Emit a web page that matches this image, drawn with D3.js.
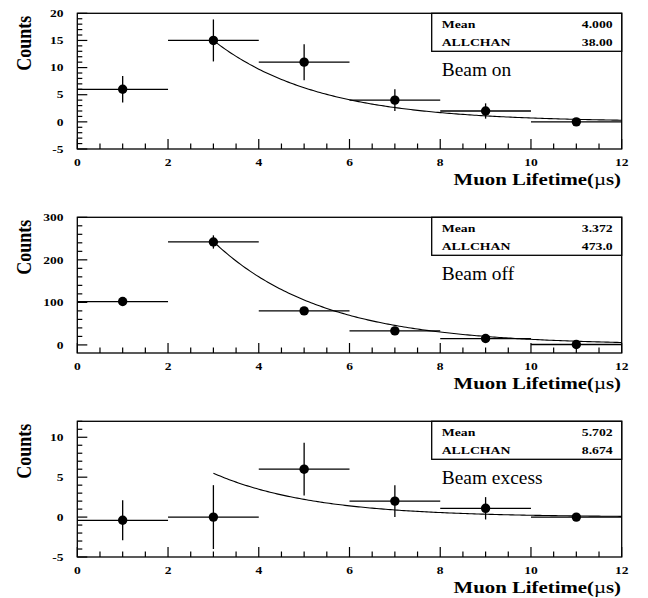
<!DOCTYPE html>
<html>
<head>
<meta charset="utf-8">
<script src="https://cdn.jsdelivr.net/npm/d3@7"></script>
<style>
html,body{margin:0;padding:0;background:#fff;}
svg{display:block;}
</style>
</head>
<body>
<svg id="chart" width="648" height="598"></svg>
<script>
// ---- data ----
const binCenters = [1, 3, 5, 7, 9, 11];
const binHalfWidth = 1;
const xTickLabels = [0, 2, 4, 6, 8, 10, 12];

const beamOnCounts = [6, 15, 11, 4, 2, 0];
const beamOnErrors = [2.45, 3.87, 3.32, 2.0, 1.41, 0];

const beamOffCounts = [102, 242, 80, 33, 15, 1];
const beamOffErrors = [10.1, 15.6, 8.9, 5.7, 3.9, 1.0];

const beamExcessCounts = [-0.4, 0, 6, 2, 1.1, 0];
const beamExcessErrors = [2.5, 4.0, 3.3, 2.0, 1.4, 0];

const panelLabels = ["Beam on", "Beam off", "Beam excess"];
const statMeans = ["4.000", "3.372", "5.702"];
const statAllchan = ["38.00", "473.0", "8.674"];

const yDomains = [[-5, 20], [-19, 300], [-5, 12]];
const yTickLabels = [[-5, 0, 5, 10, 15, 20], [0, 100, 200, 300], [-5, 0, 5, 10]];
const yMinorSteps = [1, 20, 1];

// exponential fit: amplitude at t = fitStart, lifetime tau (µs)
const fitStart = 3, fitEnd = 12;
const fitAmplitudes = [15, 243, 5.5];
const fitTaus = [2.3, 2.4, 2.2];

// ---- layout ----
const svg = d3.select("#chart");
const left = 77.3, right = 621.7;
const panelTops = [13.3, 217.3, 421.3];
const panelHeight = 135.7;
const serif = "'Liberation Serif','Times New Roman',serif";

function stext(parent, x, y, str, o) {
  const g = parent.append("g")
    .attr("transform", `translate(${x},${y}) scale(${o.sx || 1},1)` + (o.rot ? ` rotate(${o.rot})` : ""));
  return g.append("text")
    .attr("x", 0).attr("y", 0)
    .attr("text-anchor", o.anchor || "start")
    .attr("font-family", serif)
    .attr("font-size", o.size)
    .attr("font-weight", o.weight || "normal")
    .attr("fill", "#000")
    .text(str);
}

const series = [
  {counts: beamOnCounts, errors: beamOnErrors},
  {counts: beamOffCounts, errors: beamOffErrors},
  {counts: beamExcessCounts, errors: beamExcessErrors}
];

series.forEach((s, i) => {
  const top = panelTops[i], bottom = top + panelHeight;
  const x = d3.scaleLinear().domain([0, 12]).range([left, right]);
  const y = d3.scaleLinear().domain(yDomains[i]).range([bottom, top]);
  const g = svg.append("g");

  // x ticks (inside, pointing up)
  const xMinor = d3.range(0, 12.001, 0.5);
  g.append("g").selectAll("line").data(xMinor).join("line")
    .attr("x1", d => x(d)).attr("x2", d => x(d))
    .attr("y1", bottom).attr("y2", d => bottom - (Math.abs(d % 2) < 1e-6 ? 10 : 5.5))
    .attr("stroke", "#000").attr("stroke-width", 1.2);

  // y ticks (inside, pointing right)
  const [y0, y1] = yDomains[i];
  const st = yMinorSteps[i];
  const yMinor = d3.range(Math.ceil(y0 / st) * st, y1 + 1e-6, st);
  const majors = new Set(yTickLabels[i]);
  g.append("g").selectAll("line").data(yMinor).join("line")
    .attr("x1", left).attr("x2", d => left + (majors.has(d) ? 10 : 5))
    .attr("y1", d => y(d)).attr("y2", d => y(d))
    .attr("stroke", "#000").attr("stroke-width", 1.2);

  // frame
  g.append("rect").attr("x", left).attr("y", top)
    .attr("width", right - left).attr("height", panelHeight)
    .attr("fill", "none").attr("stroke", "#000").attr("stroke-width", 1.3);

  // tick labels
  xTickLabels.forEach(t => stext(g, x(t), bottom + 17, String(t), {size: 10.8, weight: "bold", anchor: "middle", sx: 1.25}));
  yTickLabels[i].forEach(t => stext(g, left - 13.7, y(t) + 3.7, String(t), {size: 10.8, weight: "bold", anchor: "end", sx: 1.25}));

  // axis titles
  const title = stext(g, 621, bottom + 36, "Muon Lifetime(", {size: 17.5, weight: "bold", anchor: "end", sx: 1.19});
  title.text(null);
  title.append("tspan").text("Muon Lifetime(");
  title.append("tspan").attr("font-weight", "normal").text("\u00B5");
  title.append("tspan").text("s)");
  stext(g, 31, top + 30, "Counts", {size: 18, weight: "bold", anchor: "middle", sx: 1.15, rot: -90});

  // stats box
  const boxLeft = 431.7;
  g.append("rect").attr("x", boxLeft).attr("y", top)
    .attr("width", right - boxLeft).attr("height", 38)
    .attr("fill", "#fff").attr("stroke", "#000").attr("stroke-width", 1.3);
  stext(g, 441.7, top + 14.3, "Mean", {size: 11, weight: "bold", sx: 1.25});
  stext(g, 612.7, top + 14.3, statMeans[i], {size: 11, weight: "bold", anchor: "end", sx: 1.25});
  stext(g, 441.7, top + 32.7, "ALLCHAN", {size: 11, weight: "bold", sx: 1.25});
  stext(g, 612.7, top + 32.7, statAllchan[i], {size: 11, weight: "bold", anchor: "end", sx: 1.25});

  // panel label
  stext(g, 441.7, top + 63, panelLabels[i], {size: 18.5, sx: 1.05});

  // fit curve
  const ts = d3.range(fitStart, fitEnd + 1e-6, 0.05);
  const line = d3.line().x(t => x(t)).y(t => y(fitAmplitudes[i] * Math.exp(-(t - fitStart) / fitTaus[i])));
  g.append("path").attr("d", line(ts)).attr("fill", "none").attr("stroke", "#000").attr("stroke-width", 1.1);

  // data points with error bars
  const pts = binCenters.map((c, k) => ({c, v: s.counts[k], e: s.errors[k]}));
  const pg = g.append("g").attr("stroke", "#000").attr("stroke-width", 1.3);
  pg.selectAll(".hx").data(pts).join("line")
    .attr("x1", d => x(d.c - binHalfWidth)).attr("x2", d => x(d.c + binHalfWidth))
    .attr("y1", d => y(d.v)).attr("y2", d => y(d.v));
  pg.selectAll(".vy").data(pts.filter(d => d.e > 0)).join("line")
    .attr("x1", d => x(d.c)).attr("x2", d => x(d.c))
    .attr("y1", d => y(d.v - d.e)).attr("y2", d => y(d.v + d.e));
  g.append("g").selectAll("circle").data(pts).join("circle")
    .attr("cx", d => x(d.c)).attr("cy", d => y(d.v)).attr("r", 4.7).attr("fill", "#000");
});
</script>
</body>
</html>
